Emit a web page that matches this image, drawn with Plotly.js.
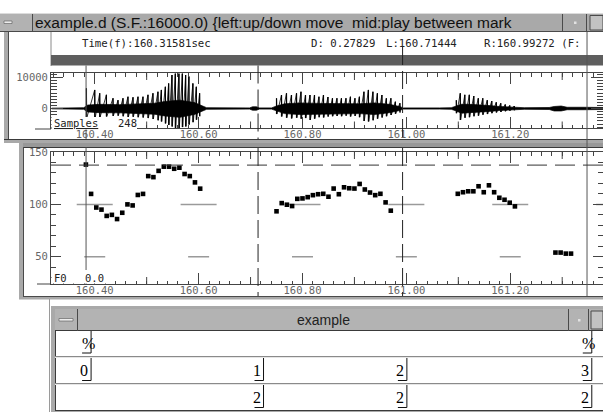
<!DOCTYPE html>
<html>
<head>
<meta charset="utf-8">
<script src="https://cdn.plot.ly/plotly-3.0.1.min.js"></script>
<style>
html,body{margin:0;padding:0;background:#ffffff;overflow:hidden;}
#chart{width:603px;height:412px;}
</style>
</head>
<body>
<div id="chart"></div>
<script>
// ================= data =================
const viewStart = 160.31581;   // Time(f)
const leftMark  = 160.71444;   // L
const rightMark = 160.99272;   // R
const durationLabel = '0.27829'; // D
const sampleRate = '16000.0';
const samplesLabel = '248';
const fileName = 'example.d';
const labelWindowName = 'example';

const xTickTimes  = [160.40, 160.60, 160.80, 161.00, 161.20];
const xTickLabels = ['160.40', '160.60', '160.80', '161.00', '161.20'];
const xMidTickTimes = [160.50, 160.70, 160.90, 161.10, 161.30];
const waveTickVals = [0, 10000];
const waveTickLabels = ['0', '10000'];
const f0TickVals = [50, 100, 150];
const f0TickLabels = ['50', '100', '150'];

// cursor lines (s)
const solidCursorTimes = [160.3833, 161.3478];
const dashedCursorTimes = [leftMark, rightMark];
const f0CursorValue = 137.5;
const f0GridTimes = [160.40, 160.60, 160.80, 161.00, 161.20, 161.40];
const f0GridLevels = [100, 50];

// waveform: pitch pulse peaks (time s, max / min sample value)
const pulseTimes1 = [160.3840,160.4000,160.4096,160.4225,160.4352,160.4448,160.4544,160.4640,160.4737,160.4833,160.4929,160.5025,160.5121,160.5217,160.5283,160.5360,160.5423,160.5487,160.5552,160.5621,160.5687,160.5750,160.5813,160.5890,160.5956,160.6019];
const pulseTops1  = [6500,6000,4900,4400,3300,2700,3300,3800,3600,3800,3800,4400,4900,5400,6000,7000,8100,10800,11300,11300,11300,10800,10300,8100,7000,4900];
const pulseBots1  = [-3000,-3200,-2800,-2600,-2400,-2300,-2500,-2800,-2700,-2800,-2900,-3100,-3400,-3800,-4200,-4800,-5300,-5800,-6300,-6300,-6000,-5800,-5200,-4400,-3600,-2500];

const pulseTimes2 = [160.7500,160.7596,160.7692,160.7788,160.7885,160.7971,160.8058,160.8144,160.8231,160.8317,160.8404,160.8490,160.8577,160.8663,160.8750,160.8837,160.8923,160.9010,160.9096,160.9183,160.9269,160.9356,160.9442,160.9529,160.9615,160.9702,160.9788,160.9875];
const pulseTops2  = [3300,4350,4900,4350,4900,5400,4350,4350,4350,3800,4350,3700,3300,3300,3300,3300,3800,3300,3800,5400,6000,5400,4900,4350,3300,3300,2200,1700];
const pulseBots2  = [-1800,-2600,-3000,-3200,-3000,-3300,-3100,-3700,-3300,-2800,-2900,-2600,-2500,-2400,-2500,-2300,-2600,-2400,-2800,-4000,-4200,-3800,-3300,-2900,-2500,-2100,-1700,-1300];

const pulseTimes3 = [161.0962,161.1038,161.1125,161.1212,161.1298,161.1385,161.1471,161.1558,161.1644,161.1731,161.1817,161.1904,161.1990,161.2077];
const pulseTops3  = [2700,4900,4400,4400,4000,3300,3300,2700,2400,2000,1700,1300,1000,800];
const pulseBots3  = [-1500,-3700,-3000,-2800,-2500,-2300,-2000,-1800,-1500,-1300,-1100,-900,-700,-600];

// waveform: dense core envelope
const coreTimes = [160.3173,160.3404,160.3519,160.3788,160.3865,160.4096,160.4481,160.4865,160.5154,160.5346,160.5635,160.5923,160.6077,160.6154,160.6981,160.7038,160.7115,160.7173,160.7404,160.7500,160.7654,160.7942,160.8327,160.8712,160.9096,160.9385,160.9673,160.9865,160.9942,161.0635,161.0865,161.0962,161.1058,161.1212,161.1404,161.1596,161.1788,161.1981,161.2173,161.2269,161.2750,161.2846,161.2981,161.3096,161.3423,161.3786];
const coreHi = [120,150,260,260,1100,1350,1250,1400,1700,2250,2700,1900,800,260,200,550,550,200,200,800,1500,1800,1650,1500,1500,1800,1350,650,200,200,260,800,1350,1350,1200,950,650,520,400,260,320,650,800,400,400,320];
const coreLo = [-120,-150,-260,-260,-1100,-1350,-1400,-1550,-1850,-2400,-2850,-1900,-800,-260,-200,-550,-550,-200,-200,-800,-1650,-1950,-1800,-1650,-1650,-1950,-1350,-650,-200,-200,-260,-800,-1500,-1350,-1200,-950,-650,-520,-400,-260,-320,-800,-800,-400,-400,-320];

// F0 track (Hz)
const f0Times1 = [160.383,160.393,160.403,160.413,160.423,160.433,160.443,160.453,160.463,160.473,160.483,160.493,160.503,160.513,160.523,160.533,160.543,160.553,160.563,160.573,160.583,160.593,160.603];
const f0Vals1  = [138,110,97,95,89,90,86,92,100,99,109,110,127,126,132,136,136,134,135,129,127,121,115];
const f0Times2 = [160.750,160.760,160.770,160.780,160.790,160.800,160.810,160.820,160.830,160.840,160.850,160.860,160.870,160.880,160.890,160.900,160.910,160.920,160.930,160.940,160.950,160.960,160.970];
const f0Vals2  = [93.4,101.2,99.7,98.4,105.3,105.7,106.9,108.8,109.7,110.1,107.3,115.1,109.7,116.3,115.4,115.1,119.5,114.2,111.3,108.8,110.1,101.9,94.0];
const f0Times3 = [161.099,161.109,161.119,161.129,161.139,161.149,161.159,161.169,161.179,161.189,161.199,161.209];
const f0Vals3  = [110.1,111.6,112.5,112.5,117.3,111.6,118.2,111.6,106.3,104.4,101.6,98.1];
const f0Times4 = [161.287,161.297,161.307,161.317];
const f0Vals4  = [54,54,53,53];

// label window tiers
const tier1Times = [160.393, 161.357];
const tier1Labels = ['%', '%'];
const tier2Times = [160.393, 160.725, 161.001, 161.357];
const tier2Labels = ['0', '1', '2', '3'];
const tier3Times = [160.725, 161.001, 161.357];
const tier3Labels = ['2', '2', '2'];

// ================= layout helpers (pixels) =================
const W = 603, H = 412;
const X = p => p / W;
const Y = p => 1 - p / H;
const plotLeft = 51;
const pxPerSec = 519.4;
const viewEnd = viewStart + (W - plotLeft) / pxPerSec;

const shapes = [];
const R = (x0, y0, x1, y1, fill, lc, lw) => shapes.push({type:'rect', xref:'paper', yref:'paper',
  x0:X(x0), x1:X(x1), y0:Y(y1), y1:Y(y0), fillcolor:fill,
  line:{color:lc || 'rgba(0,0,0,0)', width:lw || 0}, layer:'above'});
const L = (x0, y0, x1, y1, c, w, dash) => shapes.push({type:'line', xref:'paper', yref:'paper',
  x0:X(x0), x1:X(x1), y0:Y(y0), y1:Y(y1), line:{color:c, width:w || 1, dash:dash || 'solid'}, layer:'above'});
const VT = (t, y0, y1, c, w, dash) => shapes.push({type:'line', xref:'x', yref:'paper',
  x0:t, x1:t, y0:Y(y0), y1:Y(y1), line:{color:c, width:w || 1, dash:dash || 'solid'}, layer:'above'});

// ---- top window (waveform) ----
R(0, 13, 603, 32, '#a9a9a9');
L(0, 13.5, 603, 13.5, '#dcdcdc');
L(0, 31.5, 603, 31.5, '#4a4a4a');
R(0, 14, 32, 31, '#b2b2b2');
L(32.5, 14, 32.5, 31, '#4a4a4a');
R(4, 21, 12, 23.5, '#ececec', '#555', 0.6);
R(574, 21.5, 576.5, 24, '#e2e2e2');
L(586.5, 14, 586.5, 31, '#4a4a4a');
R(590, 15.5, 603, 30, '#c2c2c2', '#4a4a4a', 1);
R(4, 32, 8, 139, '#aaaaaa');
L(8.5, 32, 8.5, 139, '#4a4a4a');
L(51, 32, 51, 66, '#8a8a8a');
R(51, 55, 603, 65.5, '#5e5e5e');

// ---- F0 window frame ----
R(4, 139.5, 603, 143, '#a9a9a9');
L(4, 139.5, 603, 139.5, '#3a3a3a');
R(19, 143, 603, 147, '#989898');
L(19, 147.5, 603, 147.5, '#3a3a3a');
R(19, 143, 23, 299, '#a9a9a9');
L(23.5, 147, 23.5, 296, '#4a4a4a');
R(19, 296.5, 603, 299.5, '#a9a9a9');
L(23, 296.5, 603, 296.5, '#4a4a4a');

// ---- label window ----
L(49.5, 299, 49.5, 412, '#9a9a9a');
R(51, 306, 603, 412, '#a9a9a9');
R(55, 309, 603, 331, '#b3b3b3');
L(55, 330.5, 603, 330.5, '#3a3a3a');
L(77.5, 309, 77.5, 331, '#4a4a4a');
R(59, 318.5, 73, 321, '#ececec', '#555', 0.6);
L(568.5, 309, 568.5, 331, '#4a4a4a');
R(578, 319, 580.5, 321.5, '#e2e2e2');
L(588.5, 309, 588.5, 331, '#4a4a4a');
R(591, 311, 603, 329, '#c2c2c2', '#4a4a4a', 1);
R(55.5, 331, 603, 410, '#ffffff');
L(55.5, 331, 55.5, 410.5, '#3a3a3a');
L(55, 356.5, 603, 356.5, '#8a8a8a');
L(55, 357.5, 603, 357.5, '#e6e6e6');
L(55, 383.5, 603, 383.5, '#8a8a8a');
L(55, 384.5, 603, 384.5, '#e6e6e6');
L(55, 410.5, 603, 410.5, '#3a3a3a');

// ---- cursor lines ----
VT(solidCursorTimes[0], 65.5, 139, '#555', 1);
VT(solidCursorTimes[0], 147.5, 284, '#555', 1);
VT(dashedCursorTimes[0], 65.5, 139, '#222', 1, '18px,6px');
VT(dashedCursorTimes[0], 148, 296, '#222', 1, '18px,6px');
VT(dashedCursorTimes[1], 47, 139, '#222', 1, '18px,6px');
VT(dashedCursorTimes[1], 148, 296, '#222', 1, '18px,6px');
VT(solidCursorTimes[1], 32, 296, '#555', 1);

// F0 horizontal cursor
shapes.push({type:'line', xref:'paper', yref:'y2', x0:X(plotLeft), x1:1, y0:f0CursorValue, y1:f0CursorValue,
  line:{color:'#333', width:1, dash:'20px,8px'}, layer:'above'});

// F0 gray grid pieces centred on the major time ticks
const gridHalfPx = {100: 18, 50: 10.5};
f0GridTimes.forEach(t => f0GridLevels.forEach(v => {
  const h = gridHalfPx[v] / pxPerSec;
  shapes.push({type:'line', xref:'x2', yref:'y2', x0:t - h, x1:t + h, y0:v, y1:v,
    line:{color:'#9a9a9a', width:1.5}, layer:'below'});
}));

// medium ticks at 0.1 s
xMidTickTimes.forEach(t => {
  VT(t, 128.3, 121.5, '#444', 1);
  VT(t, 73.3, 80, '#444', 1);
  VT(t, 284, 277, '#444', 1);
  VT(t, 152, 159, '#444', 1);
});

// label boxes over the axes
R(51.5, 117, 137, 129.6, '#ffffff');
R(51.5, 270, 106, 283.4, '#ffffff');
L(35, 129, 51, 129, '#444');
L(37, 284, 51, 284, '#444');

// label-window tier marks
const tierRows = [
  {times: tier1Times, labels: tier1Labels, top: 331, bottom: 353, mid: 343},
  {times: tier2Times, labels: tier2Labels, top: 358, bottom: 380.5, mid: 370},
  {times: tier3Times, labels: tier3Labels, top: 385, bottom: 407.5, mid: 397}
];
const annotations = [];
tierRows.forEach(row => row.times.forEach((t, i) => {
  VT(t, row.top, row.bottom, '#111', 1);
  const w = 9 / pxPerSec;
  shapes.push({type:'line', xref:'x', yref:'paper', x0:t - w, x1:t, y0:Y(row.bottom), y1:Y(row.bottom),
    line:{color:'#111', width:1}, layer:'above'});
  const isPct = row.labels[i] === '%';
  annotations.push({xref:'x', yref:'paper', x:t, y:Y(row.mid), text:row.labels[i], showarrow:false,
    xanchor: isPct ? 'center' : 'right', yanchor:'middle', xshift: isPct ? -3 : -1,
    font:{family:'Liberation Serif', size:16, color:'#000'}});
}));

// ---- texts ----
const A = (x, y, text, opt) => annotations.push(Object.assign({xref:'paper', yref:'paper', x:X(x), y:Y(y), text,
  showarrow:false, xanchor:'left', yanchor:'middle',
  font:{family:'DejaVu Sans Mono', size:10.7, color:'#222'}}, opt || {}));

A(33, 22.5, fileName + ' (S.F.:' + sampleRate + ') {left:up/down move\u00a0 mid:play between mark',
  {font:{family:'Liberation Sans', size:15.5, color:'#111'}});
// title-bar button drawn after the text position (separator)
A(80, 43.5, 'Time(f):' + viewStart.toFixed(5) + 'sec');
A(309, 43.5, 'D: ' + durationLabel);
A(384, 43.5, 'L:' + leftMark.toFixed(5));
A(482, 43.5, 'R:' + rightMark.toFixed(5) + ' (F:');
A(52, 123.5, '<u>Samples</u>', {font:{family:'DejaVu Sans Mono', size:10.5, color:'#222'}});
A(116, 122.5, samplesLabel, {font:{family:'DejaVu Sans Mono', size:10.5, color:'#222'}});
A(52, 277.5, 'F0', {font:{family:'DejaVu Sans Mono', size:10.5, color:'#222'}});
A(83, 277.5, '0.0', {font:{family:'DejaVu Sans Mono', size:10.5, color:'#222'}});
A(323, 320, labelWindowName, {xanchor:'center', font:{family:'Liberation Sans', size:14, color:'#222'}});
L(562.5, 14, 562.5, 31, '#4a4a4a');

// ================= traces =================
const spX = [], spY = [];
const halfStep = 0.0007;
[[pulseTimes1, pulseTops1, pulseBots1], [pulseTimes2, pulseTops2, pulseBots2], [pulseTimes3, pulseTops3, pulseBots3]]
  .forEach(([t, hi, lo]) => {
    t.forEach((v, i) => { spX.push(v, v + halfStep); spY.push(hi[i], lo[i]); });
    spX.push(null); spY.push(null);
  });
const vX = [], vY = [];
[[pulseTimes1, pulseTops1, pulseBots1], [pulseTimes2, pulseTops2, pulseBots2], [pulseTimes3, pulseTops3, pulseBots3]]
  .forEach(([t, hi, lo]) => t.forEach((v, i) => { vX.push(v, v, null); vY.push(lo[i], hi[i], null); }));

const traces = [
  {x: coreTimes, y: coreLo, xaxis:'x', yaxis:'y', mode:'lines', line:{color:'#000', width:0.7}, hoverinfo:'skip'},
  {x: coreTimes, y: coreHi, xaxis:'x', yaxis:'y', mode:'lines', fill:'tonexty', fillcolor:'#000',
   line:{color:'#000', width:0.7}, hoverinfo:'skip'},
  {x: spX, y: spY, xaxis:'x', yaxis:'y', mode:'lines', line:{color:'#000', width:0.8}, hoverinfo:'skip'},
  {x: vX, y: vY, xaxis:'x', yaxis:'y', mode:'lines', line:{color:'#000', width:1.2}, hoverinfo:'skip'},
  {x: [].concat(f0Times1, f0Times2, f0Times3, f0Times4), y: [].concat(f0Vals1, f0Vals2, f0Vals3, f0Vals4),
   xaxis:'x2', yaxis:'y2', mode:'markers', marker:{symbol:'square', size:4.6, color:'#000'}, hoverinfo:'skip'}
];

const tickFont = {family:'DejaVu Sans Mono', size:10.5, color:'#666'};
const xCommon = {
  range:[viewStart, viewEnd], domain:[X(plotLeft), 1],
  tickmode:'array', tickvals:xTickTimes, ticktext:xTickLabels,
  ticks:'inside', ticklen:11, tickwidth:1, tickcolor:'#444',
  showline:true, linecolor:'#444', linewidth:1, mirror:'ticks',
  showgrid:false, zeroline:false, tickfont:tickFont, fixedrange:true,
  ticklabelstandoff:-4,
  minor:{dtick:0.02, tick0:160.40, ticks:'inside', ticklen:3.5, tickcolor:'#444', showgrid:false}
};

const layout = {
  width:W, height:H, autosize:false,
  margin:{l:0, r:0, t:0, b:0, pad:0},
  paper_bgcolor:'#ffffff', plot_bgcolor:'rgba(0,0,0,0)',
  showlegend:false,
  xaxis: Object.assign({}, xCommon, {anchor:'y'}),
  xaxis2: Object.assign({}, xCommon, {anchor:'y2', matches:'x'}),
  yaxis: {domain:[Y(128.3), Y(73.3)], range:[-6387, 11355], tickmode:'array', tickvals:waveTickVals, ticktext:waveTickLabels,
    ticks:'inside', ticklen:12, tickcolor:'#444', showline:true, linecolor:'#444', mirror:'ticks',
    showgrid:false, zeroline:false, tickfont:tickFont, fixedrange:true,
    minor:{dtick:1000, tick0:0, ticks:'inside', ticklen:6, tickcolor:'#444', showgrid:false}},
  yaxis2: {domain:[Y(284), Y(152)], range:[24, 150], tickmode:'array', tickvals:f0TickVals, ticktext:f0TickLabels,
    ticks:'inside', ticklen:10, tickcolor:'#444', showline:true, linecolor:'#444', mirror:'ticks',
    showgrid:false, zeroline:false, tickfont:tickFont, fixedrange:true,
    minor:{dtick:10, tick0:0, ticks:'inside', ticklen:5, tickcolor:'#444', showgrid:false}},
  shapes: shapes,
  annotations: annotations
};

Plotly.newPlot('chart', traces, layout, {displayModeBar:false, staticPlot:true});
</script>
</body>
</html>
